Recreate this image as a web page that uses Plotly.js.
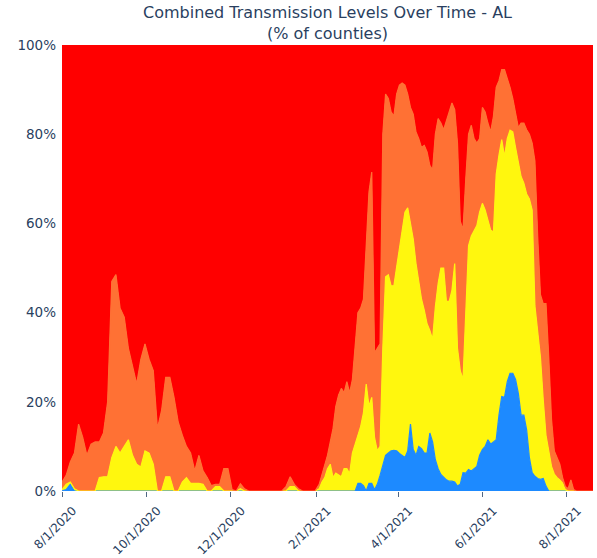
<!DOCTYPE html>
<html>
<head>
<meta charset="utf-8">
<script src="https://cdn.plot.ly/plotly-3.0.1.min.js"></script>
<style>
  html, body { margin: 0; padding: 0; background: #fff; }
  #chart { width: 597px; height: 558px; }
</style>
</head>
<body>
<div id="chart"></div>
<script>
// Dates (sampled from the daily series)
const dates = [
'2020-08-01','2020-08-04','2020-08-07','2020-08-10','2020-08-13','2020-08-16','2020-08-19','2020-08-22','2020-08-25','2020-08-28',
'2020-08-31','2020-09-03','2020-09-06','2020-09-09','2020-09-12','2020-09-15','2020-09-18','2020-09-21','2020-09-24','2020-09-27',
'2020-09-30','2020-10-03','2020-10-06','2020-10-09','2020-10-12','2020-10-15','2020-10-18','2020-10-21','2020-10-24','2020-10-27',
'2020-10-30','2020-11-02','2020-11-05','2020-11-08','2020-11-11','2020-11-14','2020-11-17','2020-11-20','2020-11-23','2020-11-26',
'2020-11-29','2020-12-02','2020-12-05','2020-12-08','2020-12-11','2020-12-14','2020-12-17','2020-12-20','2020-12-23','2020-12-26',
'2020-12-29','2021-01-01','2021-01-04','2021-01-07','2021-01-10','2021-01-13','2021-01-16','2021-01-19','2021-01-22','2021-01-25',
'2021-01-28','2021-01-31',
'2021-02-03','2021-02-05','2021-02-07','2021-02-09','2021-02-11','2021-02-13','2021-02-15','2021-02-17','2021-02-19','2021-02-21',
'2021-02-23','2021-02-25','2021-02-27','2021-03-01','2021-03-03','2021-03-05','2021-03-07','2021-03-09','2021-03-11','2021-03-13',
'2021-03-15','2021-03-17','2021-03-19','2021-03-21','2021-03-23','2021-03-25','2021-03-27','2021-03-29','2021-03-31','2021-04-02',
'2021-04-04','2021-04-06','2021-04-08','2021-04-10','2021-04-12','2021-04-14','2021-04-16','2021-04-18','2021-04-20','2021-04-22',
'2021-04-24','2021-04-26','2021-04-28','2021-04-30','2021-05-02','2021-05-04','2021-05-06','2021-05-08','2021-05-10','2021-05-12',
'2021-05-14','2021-05-16','2021-05-18','2021-05-20','2021-05-22','2021-05-24','2021-05-26','2021-05-28','2021-05-30','2021-06-01',
'2021-06-03','2021-06-05','2021-06-07','2021-06-09','2021-06-11','2021-06-13','2021-06-15','2021-06-17','2021-06-19','2021-06-21',
'2021-06-23','2021-06-25','2021-06-27','2021-06-29','2021-07-01','2021-07-03','2021-07-05','2021-07-07','2021-07-09','2021-07-11',
'2021-07-13','2021-07-15','2021-07-17','2021-07-19','2021-07-21','2021-07-23','2021-07-25','2021-07-27','2021-07-29','2021-07-31',
'2021-08-02','2021-08-04','2021-08-06','2021-08-08','2021-08-10','2021-08-12','2021-08-14','2021-08-16','2021-08-18','2021-08-20'
];

// % of counties at each transmission level
const low = [
0,0.3,1.5,0,0,0,0,0,0,0,
0,0,0,0,0,0,0,0,0,0,
0,0,0,0,0,0,0,0,0,0,
0,0,0,0,0,0,0,0,0,0,
0,0,0,0,0,0,0,0,0,0,
0,0,0,0,0,0,0,0,0,0,
0,0,
0,0,0,0,0,0,0,0,0,0,
0,0,0,0,1.7,1.7,1.2,0,1.7,1.7,
0.3,1.5,3.5,6,8,8.5,9,9.1,9,8.4,
8,7.5,9,15,9.3,8,10,9.5,8.5,8.5,
13,11,7,5,3.7,3,2.5,2.2,2.2,2,
1.1,1.5,4.1,4,4.8,4.5,5,5.5,8,9.3,
10,11.5,10.5,11,11.5,17,21.2,21,24.5,26.4,
26.4,25,21.9,17,17,13.7,7.5,4.1,3.3,2.8,
2.6,2.8,1.1,0,0,0,0,0,0,0,
0,0,0,0,0,0,0,0,0,0
];

const moderate = [
0.3,1.2,0.5,0.5,0,0,0,0,0,3,
3.2,3.2,7.5,10,8.5,10,11.5,8,6,5.4,
9,8.5,6,0,0,3.2,3.2,0,0,2,
3,1.7,1.7,1.7,1.5,0,0,1,1,0,
0,0,0,0.5,0,0,0,0,0,0,
0,0,0,0,0,1,1,0,0,0,
0,0,
0.5,2,3,5,6,3,4,3.5,3.2,5,
5,3.9,8.5,10.5,10.8,12.8,16.3,24,17.3,19.3,
11.7,7.5,6.5,26,40,40,37,36.9,41.2,45.6,
50,55,54.5,45.1,47.2,43,37,33.5,32,29,
23,23,34.3,41.5,46.3,47,40,40.3,42.8,49,
30.9,25.5,20.9,36,50.2,52.7,53.5,54,54.5,55.2,
53,49.5,48,47,59.5,58.3,57.6,54,54.5,54.5,
54.1,52,51.6,53.5,52,52.9,58,58.9,38.2,33.2,
27.4,17.7,11.4,9,5.5,3.8,3,2.5,1.8,0.3,
0,0,0,0,0,0,0,0,0,0
];

const substantial = [
1.7,2,4.5,8,15,12,8,10.5,11,8,
9.8,16.8,39.5,38.5,32.5,29,20.5,20,18,24.1,
24,21,21,14,18,22.3,22.3,21,15.5,10.5,
7,6.8,2.8,6.3,3,3,1.2,0.5,0.5,5,
5,0.3,0,1.1,0.5,0,0,0,0,0,
0,0,0,0,1,2.2,0.5,0.5,0,0,
0,0,
1,1.5,3,3,5,11,15,18,19.8,17,
19.5,18.1,16.5,22.5,27.5,26.5,25.5,31,48,50.5,
19,23,23,48,41,39.5,39,38,38.8,37,
33.5,28.5,25.5,25.9,28,29.5,32,34,37,38.5,
37,38,38.7,37,32.5,31,40.5,43,42,34.5,
46,33.5,33.6,30,25,24.8,20.5,18.5,16.5,21.5,
22,21.5,22,26,19.5,16.7,15.7,19.5,13.7,9.6,
7.5,7.5,8,12,13.5,14.4,14.5,15,32.5,21,
14,21.5,29.5,21,10.5,5.2,4.5,3.5,1.2,0.7,
0.5,2.5,0.3,0,0,0,0,0,0,0
];

const high = [
98,96.5,93.5,91.5,85,88,92,89.5,89,89,
87,80,53,51.5,59,61,68,72,76,70.5,
67,70.5,73,86,82,74.5,74.5,79,84.5,87.5,
90,91.5,95.5,92,95.5,97,98.8,98.5,98.5,95,
95,99.7,100,98.4,99.5,100,100,100,100,100,
100,100,100,100,99,96.8,98.5,99.5,100,100,
100,100,
98.5,96.5,94,92,89,86,81,78.5,77,78,
75.5,78,75,67,60,59,57,45,33,28.5,
69,68,67,20,11,12,15,16,11,9,
8.5,9,11,14,15.5,19.5,21,23,22.5,24,
27,28,20,16.5,17.5,19,17,14.5,13,14.5,
22,39.5,41.4,30,20,18,21,22,21,14,
15,17.5,19.5,16,9.5,8,5.5,5.5,7.3,9.5,
12,15.5,18.5,17.5,17.5,19,20,22,26,43,
56,58,58,70,84,91,92.5,94,97,99,
99.5,97.5,99.7,100,100,100,100,100,100,100
];

const seriesNames = ['Low', 'Moderate', 'Substantial', 'High'];
const tickDates = ['2020-08-01','2020-10-01','2020-12-01','2021-02-01','2021-04-01','2021-06-01','2021-08-01'];
const tickLabels = ['8/1/2020','10/1/2020','12/1/2020','2/1/2021','4/1/2021','6/1/2021','8/1/2021'];
const yTickVals = [0, 20, 40, 60, 80, 100];
const yTickLabels = ['0%', '20%', '40%', '60%', '80%', '100%'];

const colors = ['#1D8AFF', '#FFF70E', '#FF7134', '#FF0000'];
const values = [low, moderate, substantial, high];

const traces = values.map((v, i) => ({
  x: dates,
  y: v,
  name: seriesNames[i],
  type: 'scatter',
  mode: 'lines',
  stackgroup: 'one',
  groupnorm: i === 0 ? 'percent' : undefined,
  line: { color: colors[i], width: 1.2 },
  fillcolor: colors[i],
  hoverinfo: 'x+y+name'
}));

const layout = {
  width: 597,
  height: 558,
  margin: { l: 62, r: 4, t: 45, b: 67 },
  paper_bgcolor: '#ffffff',
  plot_bgcolor: '#ffffff',
  showlegend: false,
  font: { family: 'DejaVu Sans, Verdana, sans-serif', color: '#2a3f5f', size: 12 },
  title: {
    text: 'Combined Transmission Levels Over Time - AL<br>(% of counties)',
    font: { family: 'DejaVu Sans, Verdana, sans-serif', size: 16, color: '#2a3f5f' },
    x: 0.5, xref: 'paper', xanchor: 'center',
    y: 0.968, yref: 'container', yanchor: 'top'
  },
  xaxis: {
    type: 'date',
    range: ['2020-08-01', '2021-08-20'],
    tickvals: tickDates,
    ticktext: tickLabels,
    tickangle: -45,
    ticks: 'outside',
    ticklen: 5,
    tickcolor: '#506784',
    ticklabelshift: 11,
    ticklabelstandoff: 2,
    showgrid: false,
    zeroline: false,
    showline: false,
    tickfont: { size: 12, color: '#2a3f5f' }
  },
  yaxis: {
    range: [0, 100],
    tickvals: yTickVals,
    ticktext: yTickLabels,
    showgrid: false,
    zeroline: false,
    showline: false,
    ticks: '',
    ticklabelstandoff: 5,
    tickfont: { size: 13.5, color: '#2a3f5f' }
  }
};

Plotly.newPlot('chart', traces, layout, { displayModeBar: false, staticPlot: true });
</script>
</body>
</html>
